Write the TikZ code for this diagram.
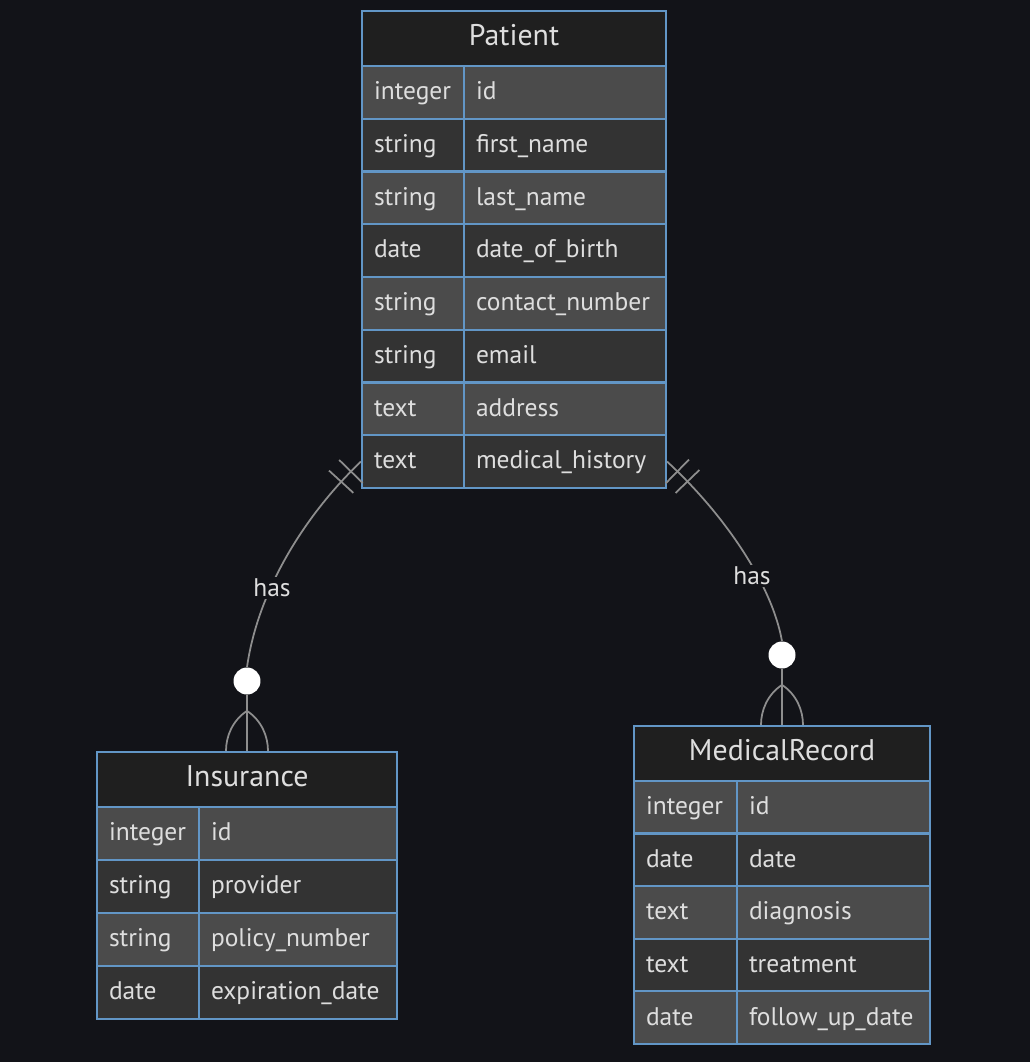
\documentclass[tikz,border=0pt]{standalone}
\usepackage{fontspec}
\setmainfont{PT Sans}
\usepackage{tikz}
\usetikzlibrary{positioning}
\usetikzlibrary{calc}
\usetikzlibrary{shapes}

\definecolor{bgcol}{HTML}{121318}
\definecolor{hcol}{HTML}{1F1F1F}
\definecolor{rcola}{HTML}{4B4B4B}
\definecolor{rcolb}{HTML}{333333}
\definecolor{ecol}{HTML}{6296C6}
\definecolor{tcol}{HTML}{DEDEDE}
\definecolor{lcol}{HTML}{8E8E8E}

\newcommand{\hdrfont}{\fontsize{17}{20}\selectfont}
\newcommand{\cellfont}{\fontsize{14.5}{17}\selectfont}

\tikzset{
 hdr/.style={draw=ecol, fill=hcol, line width=1.3pt, minimum height=1.1cm, inner sep=0pt, text=tcol, font=\hdrfont, text height=9.5pt, text depth=1.5pt},
 cell/.style={draw=ecol, line width=1.3pt, inner xsep=0.24cm, inner ysep=0pt, minimum height=1.055cm, align=left, text=tcol, font=\cellfont, text height=9.2pt, text depth=0.8pt},
 rowa/.style={cell, fill=rcola},
 rowb/.style={cell, fill=rcolb},
 rel/.style={draw=lcol, line width=1pt},
 bar/.style={rectangle, draw=lcol, line width=1pt, minimum width=0pt, minimum height=0.66cm, inner sep=0pt},
 zero/.style={circle, fill=white, minimum size=0.54cm, inner sep=0pt},
 lbl/.style={fill=bgcol, text=tcol, font=\cellfont, inner sep=1pt}
}

\begin{document}
\begin{tikzpicture}[x=0.02cm, y=-0.02cm]
 %background
 \fill[bgcol] (0,0) rectangle (1030,1062);
 \useasboundingbox (0,0) rectangle (1030,1062);

 %Patient
 \node[hdr, minimum width=6.08cm] (pat0) at (514,38.5) {Patient};
 \node[rowa, text width=1.56cm] (pat1t) at (413,92.4) {integer};
 \node[rowa, text width=3.56cm] (pat1n) at (565,92.4) {id};
 \node[rowb, text width=1.56cm] (pat2t) at (413,145.1) {string};
 \node[rowb, text width=3.56cm] (pat2n) at (565,145.1) {first\_name};
 \node[rowa, text width=1.56cm] (pat3t) at (413,197.9) {string};
 \node[rowa, text width=3.56cm] (pat3n) at (565,197.9) {last\_name};
 \node[rowb, text width=1.56cm] (pat4t) at (413,250.6) {date};
 \node[rowb, text width=3.56cm] (pat4n) at (565,250.6) {date\_of\_birth};
 \node[rowa, text width=1.56cm] (pat5t) at (413,303.4) {string};
 \node[rowa, text width=3.56cm] (pat5n) at (565,303.4) {contact\_number};
 \node[rowb, text width=1.56cm] (pat6t) at (413,356.1) {string};
 \node[rowb, text width=3.56cm] (pat6n) at (565,356.1) {email};
 \node[rowa, text width=1.56cm] (pat7t) at (413,408.9) {text};
 \node[rowa, text width=3.56cm] (pat7n) at (565,408.9) {address};
 \node[rowb, text width=1.56cm] (pat8t) at (413,461.6) {text};
 \node[rowb, text width=3.56cm] (pat8n) at (565,461.6) {medical\_history};

 %Insurance
 \node[hdr, minimum width=6.0cm] (ins0) at (247,779.5) {Insurance};
 \node[rowa, text width=1.56cm] (ins1t) at (148,833.5) {integer};
 \node[rowa, text width=3.48cm] (ins1n) at (298,833.5) {id};
 \node[rowb, text width=1.56cm] (ins2t) at (148,886.5) {string};
 \node[rowb, text width=3.48cm] (ins2n) at (298,886.5) {provider};
 \node[rowa, text width=1.56cm] (ins3t) at (148,939.5) {string};
 \node[rowa, text width=3.48cm] (ins3n) at (298,939.5) {policy\_number};
 \node[rowb, text width=1.56cm] (ins4t) at (148,992.5) {date};
 \node[rowb, text width=3.48cm] (ins4n) at (298,992.5) {expiration\_date};

 %MedicalRecord
 \node[hdr, minimum width=5.92cm] (med0) at (782,753.5) {MedicalRecord};
 \node[rowa, text width=1.58cm] (med1t) at (685.5,807.3) {integer};
 \node[rowa, text width=3.38cm] (med1n) at (833.5,807.3) {id};
 \node[rowb, text width=1.58cm] (med2t) at (685.5,859.9) {date};
 \node[rowb, text width=3.38cm] (med2n) at (833.5,859.9) {date};
 \node[rowa, text width=1.58cm] (med3t) at (685.5,912.5) {text};
 \node[rowa, text width=3.38cm] (med3n) at (833.5,912.5) {diagnosis};
 \node[rowb, text width=1.58cm] (med4t) at (685.5,965.1) {text};
 \node[rowb, text width=3.38cm] (med4n) at (833.5,965.1) {treatment};
 \node[rowa, text width=1.58cm] (med5t) at (685.5,1017.7) {date};
 \node[rowa, text width=3.38cm] (med5n) at (833.5,1017.7) {follow\_up\_date};

 %zero-or-many ends
 \node[zero] (c1) at (247,681) {};
 \node[zero] (c2) at (782,655) {};

 %lines
 \path[rel] (pat8t.west) .. controls (305,515) and (258,590) .. (c1.north)
   node[pos=0.06, sloped, bar] {} node[pos=0.12, sloped, bar] {};
 \path[rel] (pat8n.east) .. controls (725,515) and (772,585) .. (c2.north)
   node[pos=0.06, sloped, bar] {} node[pos=0.12, sloped, bar] {};

 %crow feet
 \path[rel] (c1.south) -- (ins0.north);
 \path[rel] ($(ins0.north)+(0,-40)$) .. controls ($(ins0.north)+(-15,-30)$) and ($(ins0.north)+(-21,-14)$) .. ($(ins0.north)+(-21,0)$);
 \path[rel] ($(ins0.north)+(0,-40)$) .. controls ($(ins0.north)+(15,-30)$) and ($(ins0.north)+(21,-14)$) .. ($(ins0.north)+(21,0)$);
 \path[rel] (c2.south) -- (med0.north);
 \path[rel] ($(med0.north)+(0,-40)$) .. controls ($(med0.north)+(-15,-30)$) and ($(med0.north)+(-21,-14)$) .. ($(med0.north)+(-21,0)$);
 \path[rel] ($(med0.north)+(0,-40)$) .. controls ($(med0.north)+(15,-30)$) and ($(med0.north)+(21,-14)$) .. ($(med0.north)+(21,0)$);

 %labels
 \node[lbl] (has1) at (272,588) {has};
 \node[lbl] (has2) at (752,576) {has};
\end{tikzpicture}
\end{document}
